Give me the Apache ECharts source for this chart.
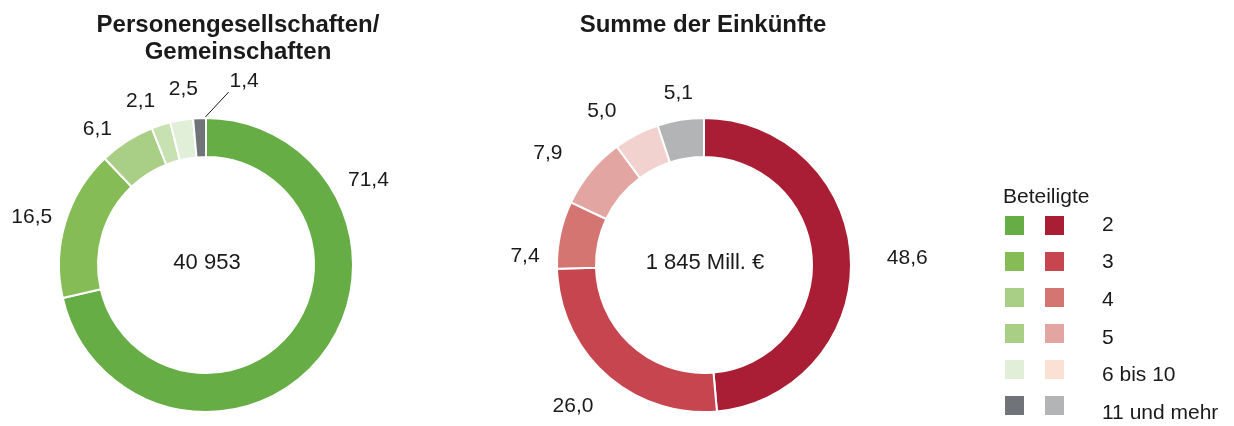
<!DOCTYPE html>
<html>
<head>
<meta charset="utf-8">
<script src="https://cdn.jsdelivr.net/npm/echarts@6/dist/echarts.min.js"></script>
<style>
  html, body { margin: 0; padding: 0; background: #fff; }
  #chart { width: 1234px; height: 426px; }
</style>
</head>
<body>
<div id="chart"></div>
<script>
// Anteile in % nach Zahl der Beteiligten
const categories = ['2', '3', '4', '5', '6 bis 10', '11 und mehr']
const personenValues = [71.4, 16.5, 6.1, 2.1, 2.5, 1.4]
const einkuenfteValues = [48.6, 26.0, 7.4, 7.9, 5.0, 5.1]
const personenTotal = '40 953'
const einkuenfteTotal = '1 845 Mill. €'

const greens = ['#66ad46', '#85bc56', '#a9cf86', '#c8e1b0', '#e2efd8', '#707478']
const reds = ['#a91e34', '#c7454f', '#d57572', '#e3a5a1', '#f2d2cf', '#b3b4b6']
const legendGreens = ['#66ad46', '#85bc56', '#a9cf86', '#a9cf86', '#e2efd8', '#707478']
const legendReds = ['#a91e34', '#c7454f', '#d57572', '#e3a5a1', '#fbe0d4', '#b3b4b6']

const font = 'Liberation Sans, Arial, sans-serif'
const fmt = v => v.toFixed(1).replace('.', ',')

// Nachjustierung der Beschriftungen (dx, dy) wie im Original
const leftNudge = [[0, 0], [13, 1], [2, 7], [6, -3], [25, -9], [0, 0]]
const rightNudge = [[9, 1], [7, 15], [6, 26], [-6, -4], [-5, -4], [21, -5]]

function donut(center, values, colors, layout) {
  return {
    type: 'pie',
    center: center,
    radius: [108, 147],
    startAngle: 90,
    clockwise: true,
    avoidLabelOverlap: false,
    silent: true,
    itemStyle: { borderColor: '#fff', borderWidth: 2 },
    label: {
      show: true,
      position: 'outside',
      fontFamily: font,
      fontSize: 21,
      color: '#1a1a1a',
      formatter: p => fmt(p.value)
    },
    labelLine: { show: false, length: 22, length2: 0 },
    labelLayout: layout,
    data: values.map((v, i) => ({
      name: categories[i],
      value: v,
      itemStyle: { color: colors[i] },
      labelLine: { show: i === 5 && colors === greens, lineStyle: { color: '#1a1a1a', width: 1 } }
    }))
  }
}

function leftLayout(p) {
  if (p.dataIndex === 0) return { x: 348, y: 180, align: 'left', verticalAlign: 'middle' }
  if (p.dataIndex === 5) {
    // 1,4 mit schräger Hinweislinie nach rechts oben
    const a = p.labelLinePoints[0]
    const s = [a[0] + 2, a[1] + 3]
    return {
      x: a[0] + 30, y: a[1] - 37, align: 'left', verticalAlign: 'middle',
      labelLinePoints: [s, [a[0] + 29, a[1] - 26], [a[0] + 29, a[1] - 26]]
    }
  }
  const n = leftNudge[p.dataIndex]
  return { dx: n[0], dy: n[1], hideOverlap: false }
}
function rightLayout(p) {
  const n = rightNudge[p.dataIndex]
  return { dx: n[0], dy: n[1], hideOverlap: false }
}

// Legende als Grafik: zwei Farbspalten + Beschriftung
const legendItems = []
categories.forEach((c, i) => {
  const y = 216 + i * 36
  legendItems.push({ type: 'rect', x: 1005, y: y, shape: { width: 19, height: 19 }, style: { fill: legendGreens[i] } })
  legendItems.push({ type: 'rect', x: 1045, y: y, shape: { width: 19, height: 19 }, style: { fill: legendReds[i] } })
  legendItems.push({ type: 'text', x: 1102, y: 225 + i * 37.6, style: { text: c, font: '21px ' + font, fill: '#1a1a1a', verticalAlign: 'middle' } })
})

const chart = echarts.init(document.getElementById('chart'))
chart.setOption({
  animation: false,
  title: [
    {
      text: 'Personengesellschaften/\nGemeinschaften',
      left: 233, top: 7, textAlign: 'center',
      textStyle: { fontFamily: font, fontSize: 24, fontWeight: 'bold', color: '#1a1a1a', lineHeight: 27 }
    },
    {
      text: 'Summe der Einkünfte',
      left: 698, top: 7, textAlign: 'center',
      textStyle: { fontFamily: font, fontSize: 24, fontWeight: 'bold', color: '#1a1a1a', lineHeight: 27 }
    }
  ],
  graphic: [
    { type: 'text', x: 207, y: 263, style: { text: personenTotal, font: '22px ' + font, fill: '#1a1a1a', align: 'center', verticalAlign: 'middle' } },
    { type: 'text', x: 705, y: 263, style: { text: einkuenfteTotal, font: '22px ' + font, fill: '#1a1a1a', align: 'center', verticalAlign: 'middle' } },
    { type: 'text', x: 1003, y: 197, style: { text: 'Beteiligte', font: '21px ' + font, fill: '#1a1a1a', verticalAlign: 'middle' } }
  ].concat(legendItems),
  series: [
    donut([206, 265], personenValues, greens, leftLayout),
    donut([704, 265], einkuenfteValues, reds, rightLayout)
  ]
})
</script>
</body>
</html>
